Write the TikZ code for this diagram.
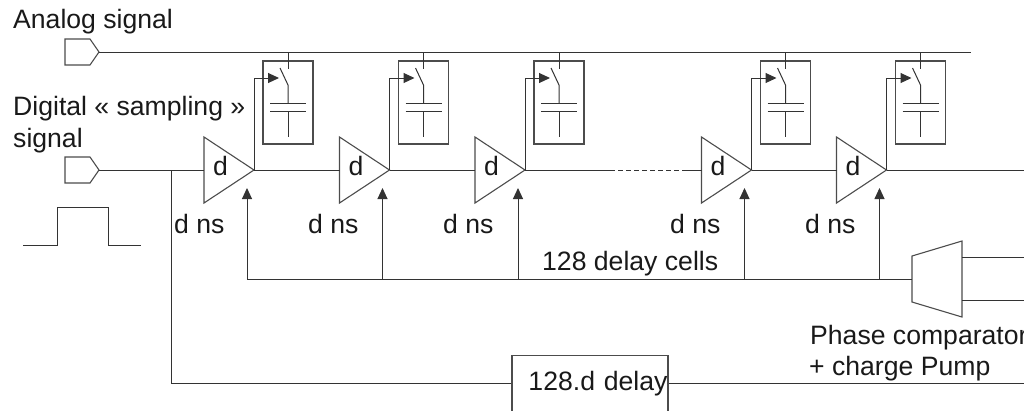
\documentclass[tikz,border=0pt]{standalone}
\usepackage{fontspec}
\setmainfont{Liberation Sans}
\usetikzlibrary{arrows.meta,shapes.geometric}

\tikzset{
  wire/.style={draw=black!80, line width=1pt},
  shape line/.style={draw=black!70, line width=1.1pt},
  txt/.style={anchor=base west, inner sep=0pt, font=\fontsize{26.6}{30}\selectfont, text=black!90},
  delaycell/.style={isosceles triangle, isosceles triangle stretches, shape line, inner sep=0pt,
    outer sep=0pt, minimum width=66pt, minimum height=50pt},
  storebox/.style={rectangle, shape line, inner sep=0pt, minimum width=50pt, minimum height=83pt},
}

\begin{document}
\begin{tikzpicture}[x=1pt, y=-1pt, >={Triangle[length=11pt,width=10pt]}]
  \useasboundingbox (0,0) rectangle (1024,410);

  % === Input ports ===
  \draw[shape line] (65,39) -- (90,39) -- (99,52) -- (90,65) -- (65,65) -- cycle;
  \draw[shape line] (65,157) -- (90,157) -- (99,170) -- (90,183) -- (65,183) -- cycle;
  \coordinate (analog) at (99,52);
  \coordinate (analogend) at (971,52);
  \coordinate (sampling) at (99,170);
  \coordinate (split) at (171.5,170);
  \draw[wire] (analog) -- (analogend);

  % === Delay line: cells, storage boxes, switches ===
  \coordinate (busleft) at (247,279);
  \foreach \n/\x in {1/204, 2/339.5, 3/475, 4/701.5, 5/836.5} {
    \node[delaycell, anchor=lower side] (d\n) at (\x,170) {};
    \node[txt] (dtxt\n) at (\x+9,175) {d};
    \node[storebox] (s\n) at (\x+84,102.5) {};

    % Switch
    \draw[wire] (\x+84,52) -- (\x+84,69);
    \draw[wire] (\x+76,68) -- (\x+84,85) -- (\x+84,103);
    % Capacitor
    \draw[wire] (\x+66,103) -- (\x+102,103);
    \draw[wire] (\x+66,111) -- (\x+102,111);
    \draw[wire] (\x+84,111) -- (\x+84,137);

    % Clock to switch
    \coordinate (gate\n) at (\x+75,78);
    \draw[wire, ->] (d\n.apex) |- (gate\n);

    % Control from the bus
    \coordinate (tip\n) at (\x+43,188);
    \coordinate (bus\n) at (\x+43,279);
    \draw[wire, ->] (bus\n) -- (tip\n);
  }

  % Signal path along the cells
  \draw[wire] (sampling) -- (d1.lower side);
  \draw[wire] (d1.apex) -- (d2.lower side);
  \draw[wire] (d2.apex) -- (d3.lower side);
  \coordinate (dashstart) at (610,170);
  \coordinate (dashend) at (685,170);
  \draw[wire] (d3.apex) -- (dashstart);
  \draw[wire, dash pattern=on 5pt off 3pt] (dashstart) -- (dashend);
  \draw[wire] (dashend) -- (d4.lower side);
  \draw[wire] (d4.apex) -- (d5.lower side);
  \coordinate (lineend) at (1024,170);
  \draw[wire] (d5.apex) -- (lineend);

  % === Phase comparator ===
  \draw[shape line] (912,256) -- (962,241) -- (962,317) -- (912,302) -- cycle;
  \coordinate (cmpin) at (912,279);
  \draw[wire] (busleft) -- (cmpin);
  \coordinate (cmpa) at (962,257.5);
  \coordinate (cmpb) at (962,300);
  \coordinate (cmpaend) at (1024,257.5);
  \coordinate (cmpbend) at (1024,300);
  \draw[wire] (cmpa) -- (cmpaend);
  \draw[wire] (cmpb) -- (cmpbend);

  % === Long delay ===
  \node[rectangle, shape line, inner xsep=0.5pt, inner ysep=0pt, text width=155pt, minimum height=56pt,
    align=right, font=\fontsize{26.6}{30}\selectfont, text=black!90] (longdelay) at (590,383.5) {128.d delay};
  \coordinate (delaycorner) at (171.5,383.5);
  \coordinate (delayend) at (1024,383.5);
  \draw[wire] (split) -- (delaycorner) -- (longdelay);
  \draw[wire] (longdelay) -- (delayend);

  % Pulse
  \draw[wire] (23,245) -- (57,245) -- (57,207.5) -- (108,207.5) -- (108,245) -- (141,245);

  % === Labels ===
  \node[txt] (analogtxt) at (13,28) {Analog signal};
  \node[txt] (digitaltxt) at (13,115) {Digital « sampling »};
  \node[txt] (signaltxt) at (13,147) {signal};
  \foreach \n/\x in {1/174, 2/308, 3/443, 4/670, 5/805} {
    \node[txt] (dns\n) at (\x,233) {d ns};
  }
  \node[txt] (cellstxt) at (542,270) {128 delay cells};
  \node[txt] (cmptxt) at (810,344) {Phase comparator};
  \node[txt] (pumptxt) at (809,375) {+ charge Pump};

\end{tikzpicture}
\end{document}
